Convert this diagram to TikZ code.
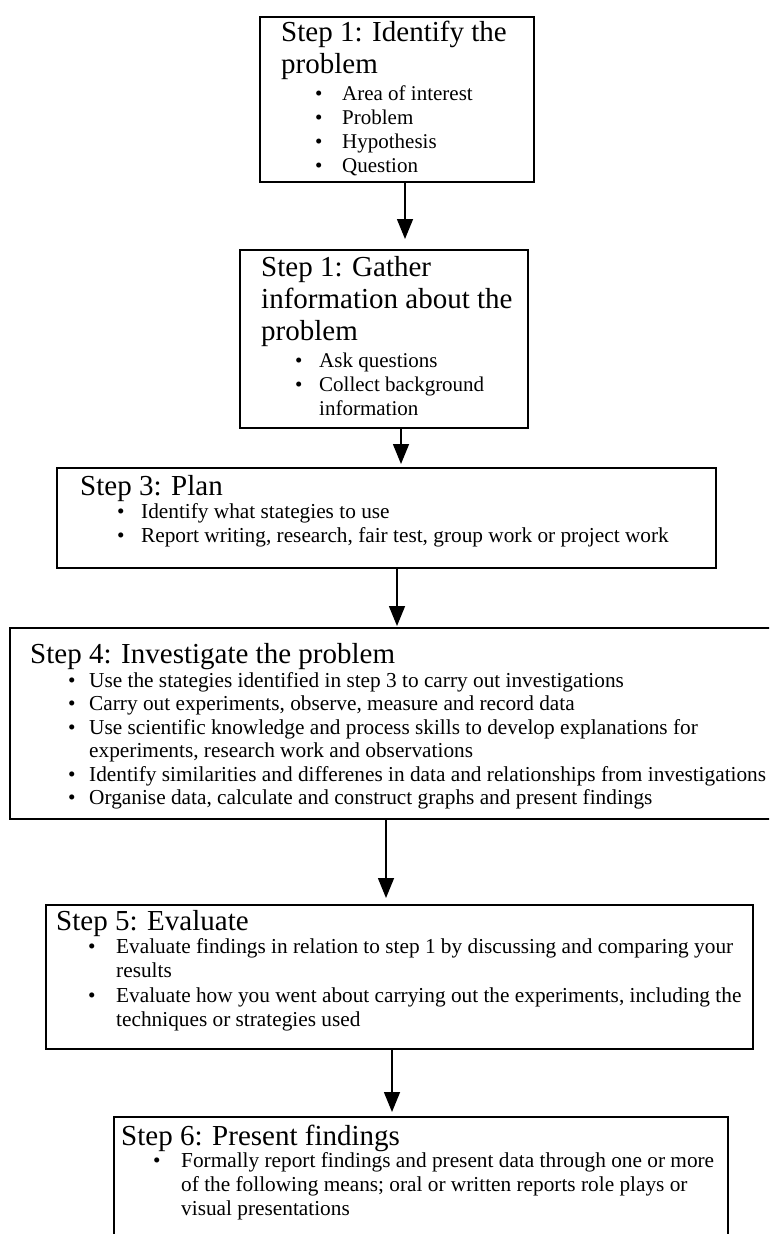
\documentclass[tikz,border=0pt]{standalone}
\usepackage{fontspec}
\setmainfont{Liberation Serif}
\usetikzlibrary{arrows.meta}
\newcommand\bl[2]{\makebox[#1][l]{•}#2}
\begin{document}
\begin{tikzpicture}[x=1pt,y=-1pt,
  stepbox/.style={draw,line width=1.5pt,rectangle,inner sep=0pt,anchor=north west},
  ttl/.style={anchor=base west,inner sep=0pt,font=\fontsize{29}{32}\selectfont},
  itm/.style={anchor=base west,inner sep=0pt,font=\fontsize{21}{24.8}\selectfont},
  itmb/.style={anchor=base west,inner sep=0pt,font=\fontsize{21.3}{24.8}\selectfont},
  arr/.style={line width=1.5pt,-{Triangle[width=16pt,length=20pt]}}]
\clip (0,0) rectangle (769,1234);
\fill[white] (0,0) rectangle (769,1234);
% Box 1
\node[stepbox,minimum width=274pt,minimum height=165pt] (b1) at (259,16) {};
\node[ttl] (b1t1) at (281,41.5) {Step 1: Identify the};
\node[ttl] (b1t2) at (281,73) {problem};
\node[itm] (b1i1) at (315,100) {\bl{27pt}{Area of interest}};
\node[itm] (b1i2) at (315,124) {\bl{27pt}{Problem}};
\node[itm] (b1i3) at (315,148) {\bl{27pt}{Hypothesis}};
\node[itm] (b1i4) at (315,172) {\bl{27pt}{Question}};
% Box 2
\node[stepbox,minimum width=288pt,minimum height=178pt] (b2) at (239,249) {};
\node[ttl] (b2t1) at (261,276) {Step 1: Gather};
\node[ttl] (b2t2) at (261,308) {information about the};
\node[ttl] (b2t3) at (261,340) {problem};
\node[itm] (b2i1) at (295,367) {\bl{24pt}{Ask questions}};
\node[itm] (b2i2) at (295,391) {\bl{24pt}{Collect background}};
\node[itm] (b2i3) at (319,415) {information};
% Box 3
\node[stepbox,minimum width=659pt,minimum height=100pt] (b3) at (56,467) {};
\node[ttl] (b3t1) at (80,495) {Step 3: Plan};
\node[itmb] (b3i1) at (117,518) {\bl{24pt}{Identify what stategies to use}};
\node[itmb] (b3i2) at (117,542) {\bl{24pt}{Report writing, research, fair test, group work or project work}};
% Box 4
\node[stepbox,line width=2pt,minimum width=800pt,minimum height=191pt] (b4) at (9,627) {};
\node[ttl] (b4t1) at (30,663) {Step 4: Investigate the problem};
\node[itmb] (b4i1) at (68,687) {\bl{21pt}{Use the stategies identified in step 3 to carry out investigations}};
\node[itmb] (b4i2) at (68,710) {\bl{21pt}{Carry out experiments, observe, measure and record data}};
\node[itmb] (b4i3) at (68,734) {\bl{21pt}{Use scientific knowledge and process skills to develop explanations for}};
\node[itmb] (b4i3b) at (89,757) {experiments, research work and observations};
\node[itmb] (b4i4) at (68,781) {\bl{21pt}{Identify similarities and differenes in data and relationships from investigations}};
\node[itmb] (b4i5) at (68,804) {\bl{21pt}{Organise data, calculate and construct graphs and present findings}};
% Box 5
\node[stepbox,minimum width=707pt,minimum height=144pt] (b5) at (45,904) {};
\node[ttl] (b5t1) at (56,930) {Step 5: Evaluate};
\node[itmb] (b5i1) at (88,953) {\bl{28pt}{Evaluate findings in relation to step 1 by discussing and comparing your}};
\node[itmb] (b5i1b) at (116,977) {results};
\node[itmb] (b5i2) at (88,1002) {\bl{28pt}{Evaluate how you went about carrying out the experiments, including the}};
\node[itmb] (b5i2b) at (116,1026) {techniques or strategies used};
% Box 6
\node[stepbox,minimum width=614pt,minimum height=200pt] (b6) at (113,1116) {};
\node[ttl] (b6t1) at (121,1145) {Step 6: Present findings};
\node[itmb] (b6i1) at (153,1167) {\bl{28pt}{Formally report findings and present data through one or more}};
\node[itmb] (b6i1b) at (181,1191) {of the following means; oral or written reports role plays or};
\node[itmb] (b6i1c) at (181,1215) {visual presentations};
% Arrows
\draw[arr,shorten >=10pt] (b1.south -| 405,0) -- (b2.north -| 405,0);
\draw[arr,shorten >=3pt] (b2.south -| 401,0) -- (b3.north -| 401,0);
\draw[arr,shorten >=1pt] (b3.south -| 397,0) -- (b4.north -| 397,0);
\draw[arr,shorten >=6pt] (b4.south -| 386,0) -- (b5.north -| 386,0);
\draw[arr,shorten >=4pt] (b5.south -| 392,0) -- (b6.north -| 392,0);
\end{tikzpicture}
\end{document}
